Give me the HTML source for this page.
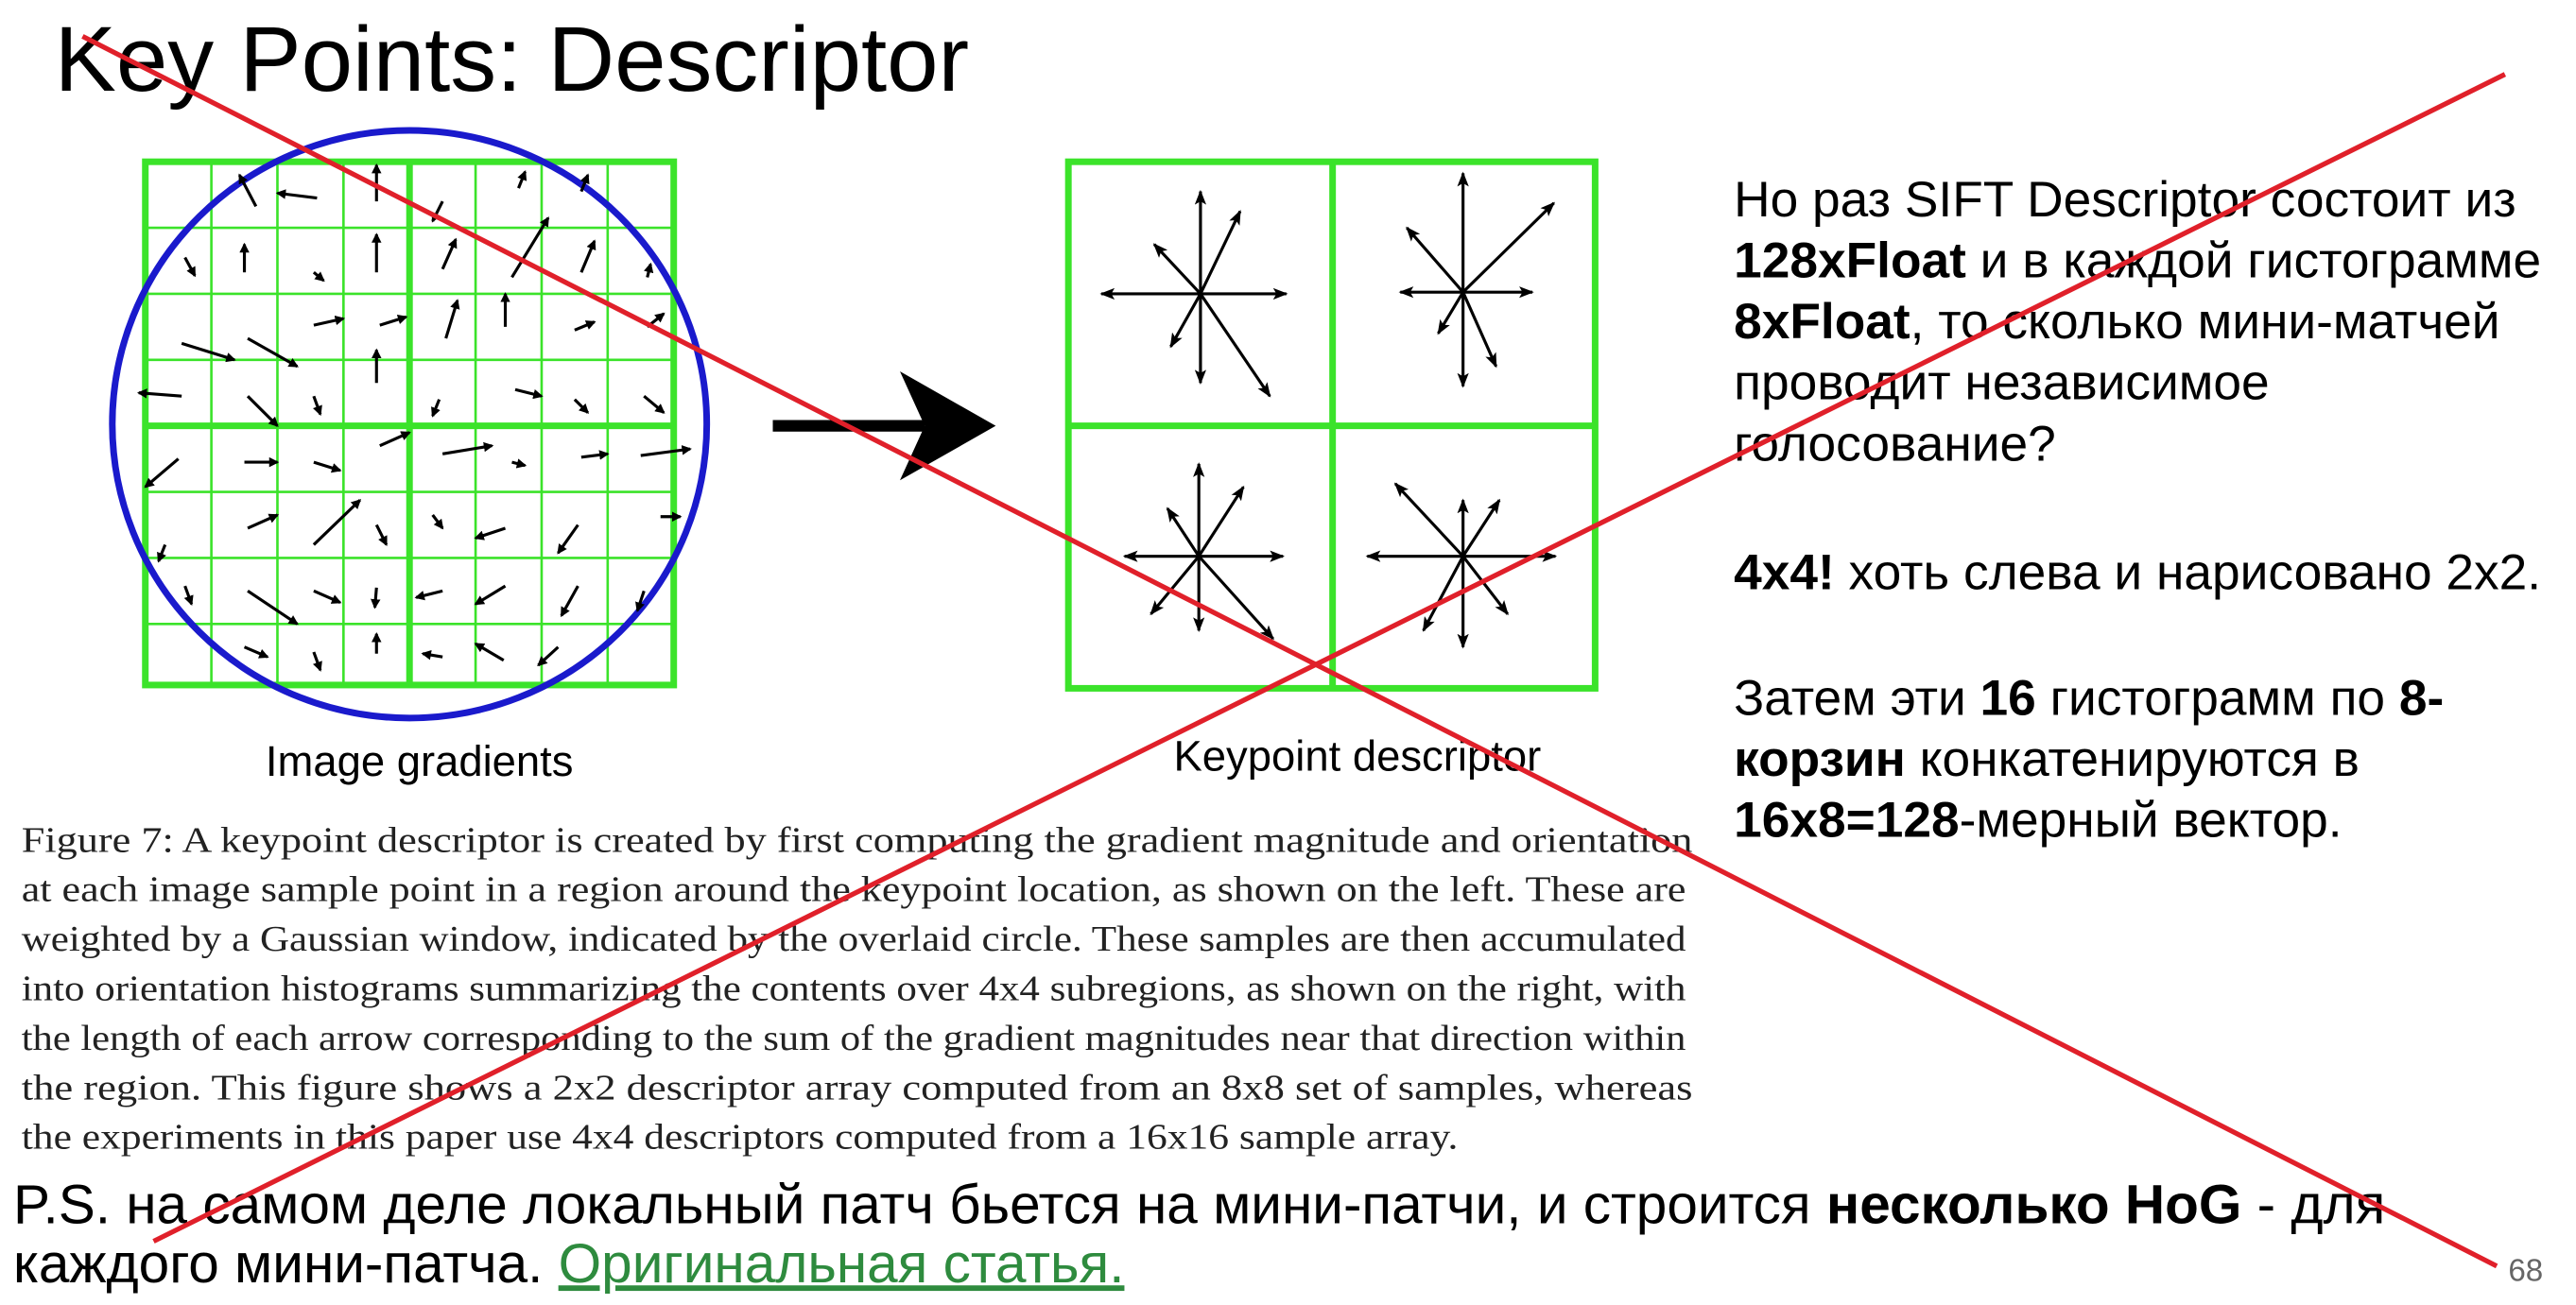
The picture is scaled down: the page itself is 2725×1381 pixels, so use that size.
<!DOCTYPE html>
<html><head><meta charset="utf-8"><style>
html,body{margin:0;padding:0;background:#fff;}
svg{display:block;}
</style></head><body>
<svg width="2725" height="1381" viewBox="0 0 1560 790.6" xmlns="http://www.w3.org/2000/svg">
<defs>
<marker id="ah" markerWidth="6" markerHeight="6" refX="5" refY="3" orient="auto" markerUnits="userSpaceOnUse"><path d="M0,0 L6,3 L0,6 Z" fill="#000"/></marker>
<marker id="ah2" markerWidth="9" markerHeight="7" refX="8" refY="3.5" orient="auto" markerUnits="userSpaceOnUse"><path d="M0,0 L9,3.5 L0,7 L2,3.5 Z" fill="#000"/></marker>
</defs>
<text x="33" y="55" font-family="Liberation Sans, sans-serif" font-size="56" fill="#000">Key Points: Descriptor</text>

<!-- left grid -->
<g stroke="#3be32a" fill="none">
<g stroke-width="1.5">
<line x1="128" y1="98" x2="128" y2="415"/><line x1="168" y1="98" x2="168" y2="415"/><line x1="208" y1="98" x2="208" y2="415"/>
<line x1="288" y1="98" x2="288" y2="415"/><line x1="328" y1="98" x2="328" y2="415"/><line x1="368" y1="98" x2="368" y2="415"/>
<line x1="88" y1="138" x2="408" y2="138"/><line x1="88" y1="178" x2="408" y2="178"/><line x1="88" y1="218" x2="408" y2="218"/>
<line x1="88" y1="298" x2="408" y2="298"/><line x1="88" y1="338" x2="408" y2="338"/><line x1="88" y1="378" x2="408" y2="378"/>
</g>
<g stroke-width="4">
<rect x="88" y="98" width="320" height="317"/>
<line x1="248" y1="98" x2="248" y2="415"/><line x1="88" y1="258" x2="408" y2="258"/>
</g>
</g>
<ellipse cx="248" cy="257" rx="180" ry="178" fill="none" stroke="#1a1acc" stroke-width="4"/>
<g stroke="#000" stroke-width="1.8" marker-end="url(#ah)">
<line x1="155" y1="125" x2="145" y2="106"/><line x1="192" y1="120" x2="168" y2="117"/><line x1="228" y1="122" x2="228" y2="100"/>
<line x1="268" y1="122" x2="262" y2="134"/><line x1="314" y1="114" x2="318" y2="104"/><line x1="352" y1="116" x2="356" y2="106"/>
<line x1="112" y1="156" x2="118" y2="167"/><line x1="148" y1="165" x2="148" y2="148"/><line x1="190" y1="165" x2="196" y2="170"/>
<line x1="228" y1="165" x2="228" y2="142"/><line x1="268" y1="163" x2="276" y2="145"/><line x1="310" y1="168" x2="332" y2="132"/>
<line x1="352" y1="165" x2="360" y2="146"/><line x1="392" y1="168" x2="394" y2="160"/>
<line x1="190" y1="197" x2="208" y2="193"/><line x1="230" y1="197" x2="246" y2="192"/><line x1="270" y1="205" x2="277" y2="182"/>
<line x1="306" y1="198" x2="306" y2="178"/><line x1="348" y1="200" x2="360" y2="195"/><line x1="392" y1="198" x2="402" y2="190"/>
<line x1="110" y1="208" x2="142" y2="218"/><line x1="150" y1="205" x2="180" y2="222"/>
<line x1="110" y1="240" x2="84" y2="238"/><line x1="150" y1="240" x2="168" y2="258"/><line x1="190" y1="240" x2="194" y2="251"/>
<line x1="228" y1="232" x2="228" y2="212"/><line x1="266" y1="242" x2="262" y2="252"/><line x1="312" y1="236" x2="328" y2="240"/>
<line x1="348" y1="242" x2="356" y2="250"/><line x1="390" y1="240" x2="402" y2="250"/>
<line x1="108" y1="278" x2="88" y2="295"/><line x1="148" y1="280" x2="168" y2="280"/><line x1="190" y1="280" x2="206" y2="285"/>
<line x1="230" y1="270" x2="248" y2="262"/><line x1="268" y1="275" x2="298" y2="270"/><line x1="310" y1="280" x2="318" y2="282"/>
<line x1="352" y1="277" x2="368" y2="275"/><line x1="388" y1="276" x2="418" y2="272"/>
<line x1="100" y1="330" x2="96" y2="340"/><line x1="150" y1="320" x2="168" y2="312"/><line x1="190" y1="330" x2="218" y2="303"/>
<line x1="228" y1="318" x2="234" y2="330"/><line x1="262" y1="312" x2="268" y2="320"/><line x1="306" y1="320" x2="288" y2="326"/>
<line x1="350" y1="318" x2="338" y2="335"/><line x1="400" y1="313" x2="412" y2="313"/>
<line x1="112" y1="355" x2="116" y2="366"/><line x1="150" y1="358" x2="180" y2="378"/><line x1="190" y1="358" x2="206" y2="365"/>
<line x1="228" y1="356" x2="227" y2="368"/><line x1="268" y1="358" x2="252" y2="362"/><line x1="306" y1="355" x2="288" y2="366"/>
<line x1="350" y1="355" x2="340" y2="373"/><line x1="390" y1="358" x2="386" y2="370"/>
<line x1="148" y1="392" x2="162" y2="398"/><line x1="190" y1="395" x2="194" y2="406"/><line x1="228" y1="396" x2="228" y2="384"/>
<line x1="268" y1="398" x2="256" y2="396"/><line x1="305" y1="400" x2="288" y2="390"/><line x1="338" y1="392" x2="326" y2="403"/>
</g>

<!-- big arrow -->
<line x1="468" y1="258" x2="560" y2="258" stroke="#000" stroke-width="7"/>
<polygon points="545,225 603,258 545,291 560,258" fill="#000"/>

<!-- right grid -->
<g stroke="#3be32a" fill="none" stroke-width="4">
<rect x="647" y="98" width="319" height="319"/>
<line x1="807" y1="98" x2="807" y2="417"/><line x1="647" y1="258" x2="966" y2="258"/>
</g>
<g stroke="#000" stroke-width="1.8" marker-end="url(#ah2)">
<line x1="727" y1="178" x2="727" y2="116"/><line x1="727" y1="178" x2="727" y2="232"/><line x1="727" y1="178" x2="667" y2="178"/><line x1="727" y1="178" x2="779" y2="178"/>
<line x1="727" y1="178" x2="699" y2="148"/><line x1="727" y1="178" x2="751" y2="128"/><line x1="727" y1="178" x2="769" y2="240"/><line x1="727" y1="178" x2="709" y2="210"/>
<line x1="886" y1="177" x2="886" y2="105"/><line x1="886" y1="177" x2="886" y2="234"/><line x1="886" y1="177" x2="848" y2="177"/><line x1="886" y1="177" x2="928" y2="177"/>
<line x1="886" y1="177" x2="852" y2="138"/><line x1="886" y1="177" x2="941" y2="123"/><line x1="886" y1="177" x2="906" y2="222"/><line x1="886" y1="177" x2="871" y2="202"/>
<line x1="726" y1="337" x2="726" y2="281"/><line x1="726" y1="337" x2="726" y2="382"/><line x1="726" y1="337" x2="681" y2="337"/><line x1="726" y1="337" x2="777" y2="337"/>
<line x1="726" y1="337" x2="707" y2="308"/><line x1="726" y1="337" x2="753" y2="295"/><line x1="726" y1="337" x2="771" y2="387"/><line x1="726" y1="337" x2="697" y2="372"/>
<line x1="886" y1="337" x2="886" y2="303"/><line x1="886" y1="337" x2="886" y2="392"/><line x1="886" y1="337" x2="828" y2="337"/><line x1="886" y1="337" x2="942" y2="337"/>
<line x1="886" y1="337" x2="845" y2="293"/><line x1="886" y1="337" x2="908" y2="303"/><line x1="886" y1="337" x2="913" y2="372"/><line x1="886" y1="337" x2="862" y2="382"/>
</g>
<g font-family="Liberation Sans, sans-serif" font-size="26" fill="#000" text-anchor="middle">
<text x="254" y="470">Image gradients</text>
<text x="822" y="467">Keypoint descriptor</text>
</g>

<g font-family="Liberation Serif, serif" font-size="22" fill="#222">
<text x="13" y="516" textLength="1012" lengthAdjust="spacingAndGlyphs">Figure 7: A keypoint descriptor is created by first computing the gradient magnitude and orientation</text>
<text x="13" y="546" textLength="1008" lengthAdjust="spacingAndGlyphs">at each image sample point in a region around the keypoint location, as shown on the left.  These are</text>
<text x="13" y="576" textLength="1008" lengthAdjust="spacingAndGlyphs">weighted by a Gaussian window, indicated by the overlaid circle. These samples are then accumulated</text>
<text x="13" y="606" textLength="1008" lengthAdjust="spacingAndGlyphs">into orientation histograms summarizing the contents over 4x4 subregions, as shown on the right, with</text>
<text x="13" y="636" textLength="1008" lengthAdjust="spacingAndGlyphs">the length of each arrow corresponding to the sum of the gradient magnitudes near that direction within</text>
<text x="13" y="666" textLength="1012" lengthAdjust="spacingAndGlyphs">the region.  This figure shows a 2x2 descriptor array computed from an 8x8 set of samples, whereas</text>
<text x="13" y="696" textLength="870" lengthAdjust="spacingAndGlyphs">the experiments in this paper use 4x4 descriptors computed from a 16x16 sample array.</text>
</g>

<g font-family="Liberation Sans, sans-serif" font-size="30.5" fill="#000">
<text x="1050" y="131">Но раз SIFT Descriptor состоит из</text>
<text x="1050" y="168"><tspan font-weight="bold">128xFloat</tspan> и в каждой гистограмме</text>
<text x="1050" y="205"><tspan font-weight="bold">8xFloat</tspan>, то сколько мини-матчей</text>
<text x="1050" y="242">проводит независимое</text>
<text x="1050" y="279">голосование?</text>
<text x="1050" y="357"><tspan font-weight="bold">4x4!</tspan> хоть слева и нарисовано 2x2.</text>
<text x="1050" y="433">Затем эти <tspan font-weight="bold">16</tspan> гистограмм по <tspan font-weight="bold">8-</tspan></text>
<text x="1050" y="470"><tspan font-weight="bold">корзин</tspan> конкатенируются в</text>
<text x="1050" y="507"><tspan font-weight="bold">16x8=128</tspan>-мерный вектор.</text>
</g>

<g font-family="Liberation Sans, sans-serif" font-size="33.5" fill="#000">
<text x="8" y="741">P.S. на самом деле локальный патч бьется на мини-патчи, и строится <tspan font-weight="bold">несколько HoG</tspan> - для</text>
<text x="8" y="777">каждого мини-патча. <tspan fill="#2e8b3e" text-decoration="underline">Оригинальная статья.</tspan></text>
</g>
<text x="1519" y="776" font-family="Liberation Sans, sans-serif" font-size="19" fill="#666">68</text>

<g stroke="#e0202a" stroke-width="3">
<line x1="50" y1="22" x2="1512" y2="767"/>
<line x1="1517" y1="45" x2="93" y2="752"/>
</g>
</svg>
</body></html>
